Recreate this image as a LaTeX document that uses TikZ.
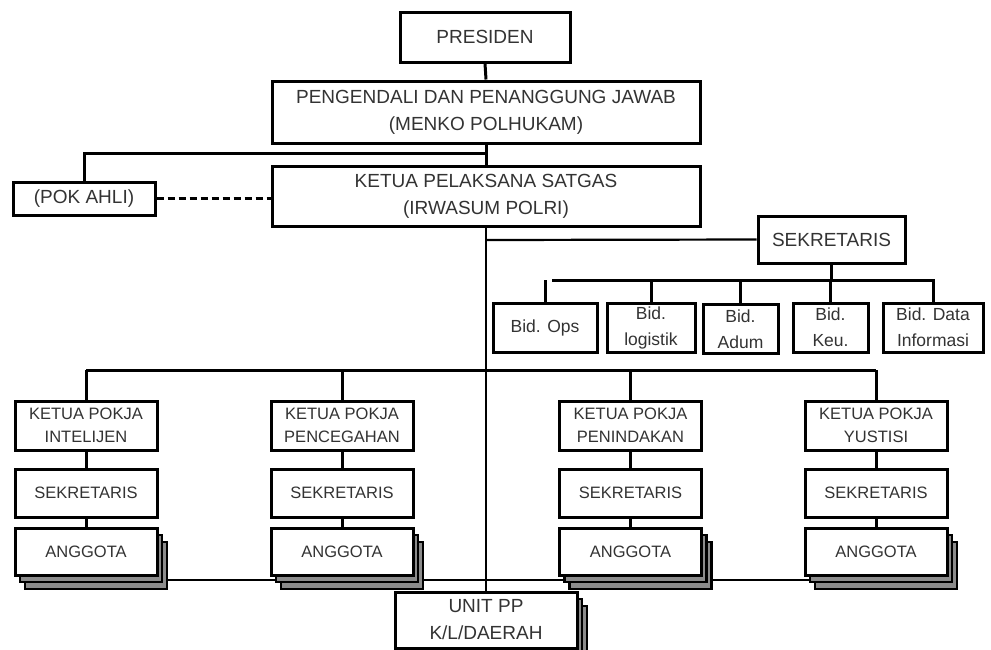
\documentclass[tikz,border=0pt]{standalone}
\usepackage{fontspec}
\setmainfont{Liberation Sans}
\usetikzlibrary{shadows}
\tikzset{
  box/.style={draw=black, line width=3pt, fill=white, rectangle, inner sep=0pt, align=center, text=black!80},
  bigtxt/.style={font=\fontsize{19}{27}\selectfont},
  midtxt/.style={font=\fontsize{16.5}{23}\selectfont},
  bidtxt/.style={font=\fontsize{17.5}{26}\selectfont},
  conn/.style={draw=black, line width=3pt},
  thin/.style={draw=black, line width=2.2pt},
  stack/.style={box, double copy shadow={shadow xshift=5pt, shadow yshift=-7pt, fill=black!45, draw=black, line width=2.4pt}},
}
\begin{document}
\begin{tikzpicture}[x=1pt,y=-1pt]
\useasboundingbox (0,0) rectangle (991,649);
\clip (0,0) rectangle (991,649);
\fill[white] (0,0) rectangle (991,649);

% junction coordinates
\coordinate (j1) at (486,153);
\coordinate (jsek) at (486,240);
\coordinate (bus1l) at (552,280);
\coordinate (bus1r) at (935,280);
\coordinate (bus2l) at (86,370);
\coordinate (bus2r) at (876,370);
\coordinate (botl) at (86,580);
\coordinate (botr) at (876,580);

% bottom line behind stacks
\draw[thin] (botl) -- (botr);

% nodes
\node[box,bigtxt,minimum width=170pt,minimum height=50pt] (pres) at (485,37) {PRESIDEN};
\node[box,bigtxt,minimum width=428pt,minimum height=62pt] (peng) at (486,112) {PENGENDALI DAN PENANGGUNG JAWAB\\(MENKO POLHUKAM)};
\node[box,bigtxt,minimum width=142pt,minimum height=33pt] (pok) at (84,198.5) {(POK AHLI)};
\node[box,bigtxt,minimum width=428pt,minimum height=60pt] (ketua) at (486,196) {KETUA PELAKSANA SATGAS\\(IRWASUM POLRI)};
\node[box,bigtxt,minimum width=147pt,minimum height=47pt] (sek) at (831.5,239.5) {SEKRETARIS};

\node[box,bidtxt,minimum width=104pt,minimum height=49pt] (bops) at (545,327.5) {Bid. Ops};
\node[box,bidtxt,minimum width=88pt,minimum height=49pt] (blog) at (651,327.5) {Bid.\\logistik};
\node[box,bidtxt,minimum width=75pt,minimum height=49pt] (badum) at (740.5,329) {Bid.\\Adum};
\node[box,bidtxt,minimum width=75pt,minimum height=49pt] (bkeu) at (830.5,327.5) {Bid.\\Keu.};
\node[box,bidtxt,minimum width=100pt,minimum height=49pt] (bdata) at (933,327.5) {Bid. Data\\Informasi};

\foreach \n/\x/\t in {1/86/INTELIJEN, 2/342/PENCEGAHAN, 3/630.5/PENINDAKAN, 4/876/YUSTISI}{
  \node[box,midtxt,minimum width=142pt,minimum height=49pt] (k\n) at (\x,425.5) {KETUA POKJA\\\t};
  \node[box,midtxt,minimum width=142pt,minimum height=48pt] (s\n) at (\x,493) {SEKRETARIS};
  \node[stack,midtxt,minimum width=142pt,minimum height=47pt] (a\n) at (\x,551.5) {ANGGOTA};
}
\node[stack,bigtxt,minimum width=182pt,minimum height=56pt] (unit) at (486,620) {UNIT PP\\K/L/DAERAH};

% connectors
\draw[conn] (pres.south) -- (peng.north);
\draw[conn] (peng.south) -- (ketua.north);
\draw[conn] (j1) -| (pok.north);
\draw[conn, dashed, dash pattern=on 7pt off 4pt] (pok.east) -- (ketua.west |- pok.east);
\draw[thin] (ketua.south) -- (unit.north);
\draw[thin] (jsek) -- (sek.west);
\draw[conn] (sek.south) -- (sek.south |- bus1l);
\draw[conn] (bus1l) -- (bus1r);
\foreach \b in {bops,blog,badum,bkeu,bdata}{
  \draw[conn] (\b.north |- bus1l) -- (\b.north);
}
\draw[conn] (bus2l) -- (bus2r);
\foreach \n in {1,2,3,4}{
  \draw[conn] (k\n.north |- bus2l) -- (k\n.north);
  \draw[conn] (k\n.south) -- (s\n.north);
  \draw[conn] (s\n.south) -- (a\n.north);
}
\end{tikzpicture}
\end{document}
